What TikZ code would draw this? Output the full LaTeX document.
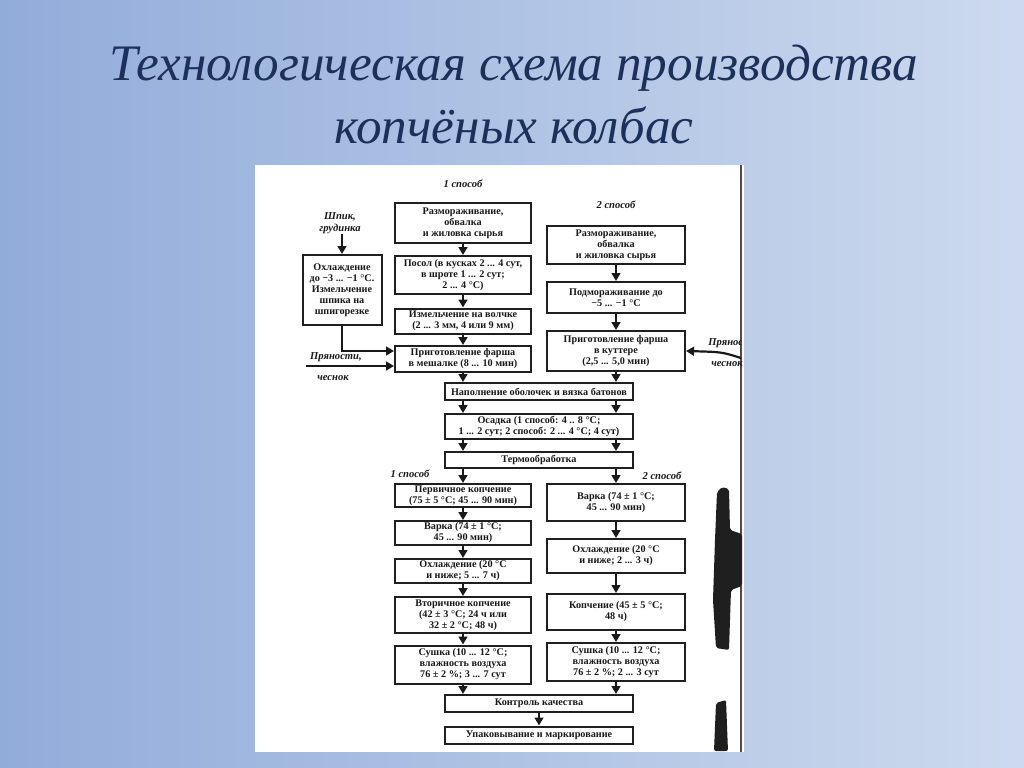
\documentclass[tikz,border=0pt]{standalone}
\usepackage{fontspec}
\setmainfont{Liberation Serif}
\usetikzlibrary{arrows.meta}
\definecolor{titlecol}{RGB}{28,48,90}
\definecolor{bgl}{RGB}{146,172,218}
\definecolor{bgr}{RGB}{205,218,238}
\begin{document}
\begin{tikzpicture}[x=0.5pt,y=-0.5pt,
  box/.style={draw=black!88, line width=1pt, fill=white, align=center, inner sep=0pt,
    font=\fontsize{5.1}{5.5}\selectfont\bfseries, text=black!90},
  arr/.style={line width=1.1pt, draw=black!90, -{Triangle[width=4.4pt,length=4pt]}},
  lab/.style={font=\fontsize{5.3}{6.2}\selectfont\bfseries\itshape, align=center, inner sep=0pt, text=black!90},
  ttl/.style={font=\fontsize{25.6}{28}\selectfont\itshape, text=titlecol, anchor=base, inner sep=0pt}
]
\useasboundingbox (0,0) rectangle (1024,767);
\shade[left color=bgl, right color=bgr] (0,0) rectangle (1024,767);

% title
\node[ttl] (t1) at (514,80) {Технологическая схема производства};
\node[ttl] (t2) at (514,143) {копчёных колбас};

% page
\fill[white] (255,165) rectangle (744,752);
\draw[black!70, line width=0.6pt] (741,165) -- (741,752);

% scan blotches
\fill[black!88, rounded corners=1pt] (717,492) -- (722,487) -- (729,489) -- (730,530) -- (742,534) -- (742,586) -- (731,590) -- (729,650) -- (716,648) -- (713,600) -- (715,540) -- cycle;
\fill[black!88, rounded corners=1pt] (716,703) -- (726,700) -- (728,751) -- (714,751) -- cycle;

% labels
\node[lab] (m1) at (463,184) {1 способ};
\node[lab] (m2) at (616,205) {2 способ};
\node[lab] (shpik) at (340,223) {Шпик,\\грудинка};
\node[lab] (spice1) at (336,357) {Пряности,};
\node[lab] (garl1) at (333,378) {чеснок};
\coordinate (sp1) at (306,366);
\begin{scope}
\clip (255,165) rectangle (741,752);
\node[lab, anchor=west] (spice2) at (708,343) {Пряности};
\end{scope}
\node[lab] (garl2) at (727,364) {чеснок};
\coordinate (sp2) at (741,358);
\node[lab] (m3) at (410,474) {1 способ};
\node[lab] (m4) at (662,476) {2 способ};

% 1st way, top
\node[box, minimum width=68pt, minimum height=20pt] (a1) at (463,223) {Размораживание,\\обвалка\\и жиловка сырья};
\node[box, minimum width=68pt, minimum height=19pt] (a2) at (463,275) {Посол (в кусках 2 ... 4 сут,\\в шроте 1 ... 2 сут;\\2 ... 4 °С)};
\node[box, minimum width=68pt, minimum height=12.5pt] (a3) at (463,321) {Измельчение на волчке\\(2 ... 3 мм, 4 или 9 мм)};
\node[box, minimum width=68pt, minimum height=13pt] (a4) at (463,359) {Приготовление фарша\\в мешалке (8 ... 10 мин)};
\node[box, minimum width=39.5pt, minimum height=35pt] (cool) at (342,290) {Охлаждение\\до −3 ... −1 °С.\\Измельчение\\шпика на\\шпигорезке};

% 2nd way, top
\node[box, minimum width=69pt, minimum height=19pt] (b1) at (616,245) {Размораживание,\\обвалка\\и жиловка сырья};
\node[box, minimum width=69pt, minimum height=15.5pt] (b2) at (616,297.5) {Подмораживание до\\−5 ... −1 °С};
\node[box, minimum width=69pt, minimum height=20pt] (b3) at (616,351) {Приготовление фарша\\в куттере\\(2,5 ... 5,0 мин)};

% common
\node[box, minimum width=94pt, minimum height=8.5pt] (c1) at (539,391.5) {Наполнение оболочек и вязка батонов};
\node[box, minimum width=94pt, minimum height=12.5pt] (c2) at (539,426.5) {Осадка (1 способ: 4 .. 8 °С;\\1 ... 2 сут; 2 способ: 2 ... 4 °С; 4 сут)};
\node[box, minimum width=94pt, minimum height=8pt] (c3) at (539,460) {Термообработка};

% 1st way, bottom
\node[box, minimum width=68pt, minimum height=11.5pt] (d1) at (463,495.5) {Первичное копчение\\(75 ± 5 °С; 45 ... 90 мин)};
\node[box, minimum width=68pt, minimum height=12pt] (d2) at (463,533) {Варка (74 ± 1 °С;\\45 ... 90 мин)};
\node[box, minimum width=68pt, minimum height=12pt] (d3) at (463,571) {Охлаждение (20 °С\\и ниже; 5 ... 7 ч)};
\node[box, minimum width=68pt, minimum height=18pt] (d4) at (463,615) {Вторичное копчение\\(42 ± 3 °С; 24 ч или\\32 ± 2 °С; 48 ч)};
\node[box, minimum width=68pt, minimum height=19pt] (d5) at (463,664.5) {Сушка (10 ... 12 °С;\\влажность воздуха\\76 ± 2 \%; 3 ... 7 сут};

% 2nd way, bottom
\node[box, minimum width=69pt, minimum height=18.5pt] (e1) at (616,502.5) {Варка (74 ± 1 °С;\\45 ... 90 мин)};
\node[box, minimum width=69pt, minimum height=17pt] (e2) at (616,556) {Охлаждение (20 °С\\и ниже; 2 ... 3 ч)};
\node[box, minimum width=69pt, minimum height=18pt] (e3) at (616,612) {Копчение (45 ± 5 °С;\\48 ч)};
\node[box, minimum width=69pt, minimum height=19pt] (e4) at (616,662) {Сушка (10 ... 12 °С;\\влажность воздуха\\76 ± 2 \%; 2 ... 3 сут};

\node[box, minimum width=94pt, minimum height=8.5pt] (f1) at (539,703.5) {Контроль качества};
\node[box, minimum width=94pt, minimum height=8.5pt] (f2) at (539,735) {Упаковывание и маркирование};

% arrows
\draw[arr] (a1.south) -- (a2.north);
\draw[arr] (a2.south) -- (a3.north);
\draw[arr] (a3.south) -- (a4.north);
\draw[arr] (a4.south) -- (a4.south |- c1.north);
\draw[arr] (cool.north |- shpik.south) -- (cool.north);
\draw[arr] (cool.south) |- ([yshift=4pt]a4.west);
\draw[arr] (sp1) -- (sp1 -| a4.west);
\draw[arr] (b1.south) -- (b2.north);
\draw[arr] (b2.south) -- (b3.north);
\draw[arr] (b3.south) -- (b3.south |- c1.north);
\draw[arr] (sp2) .. controls (722,352) .. (b3.east);
\draw[arr] (c1.south -| a4) -- (c2.north -| a4);
\draw[arr] (c1.south -| b3) -- (c2.north -| b3);
\draw[arr] (c2.south -| a4) -- (c3.north -| a4);
\draw[arr] (c2.south -| b3) -- (c3.north -| b3);
\draw[arr] (c3.south -| d1) -- (d1.north);
\draw[arr] (c3.south -| e1) -- (e1.north);
\draw[arr] (d1.south) -- (d2.north);
\draw[arr] (d2.south) -- (d3.north);
\draw[arr] (d3.south) -- (d4.north);
\draw[arr] (d4.south) -- (d5.north);
\draw[arr] (e1.south) -- (e2.north);
\draw[arr] (e2.south) -- (e3.north);
\draw[arr] (e3.south) -- (e4.north);
\draw[arr] (d5.south) -- (d5.south |- f1.north);
\draw[arr] (e4.south) -- (e4.south |- f1.north);
\draw[arr] (f1.south) -- (f2.north);
\end{tikzpicture}
\end{document}
